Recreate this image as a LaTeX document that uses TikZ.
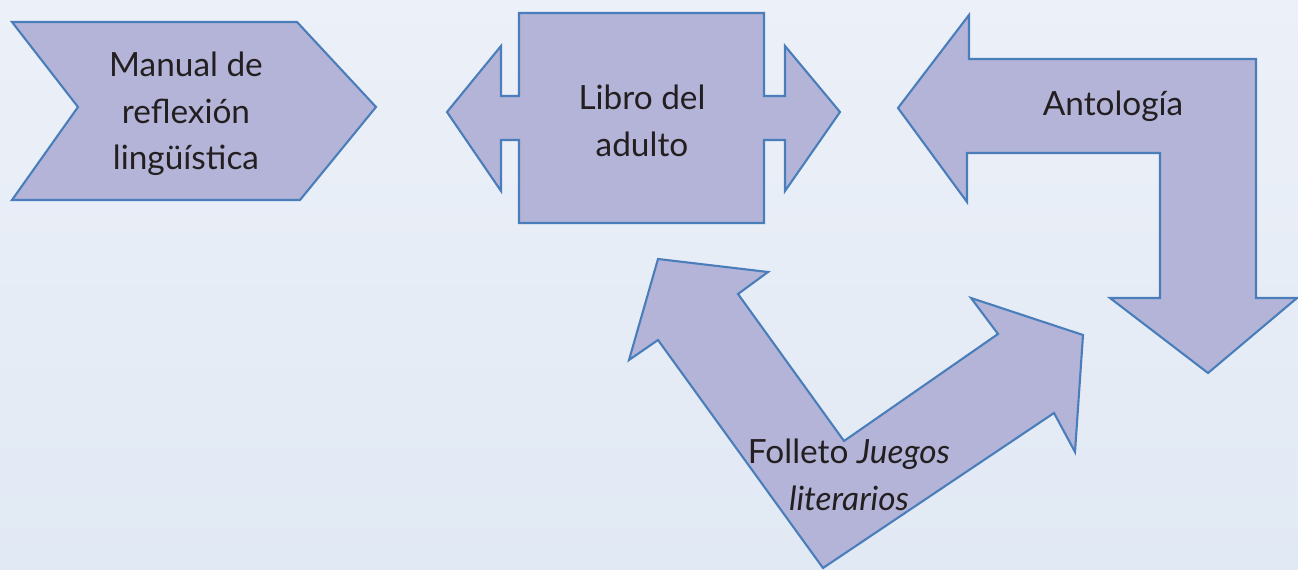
\documentclass[tikz,border=0pt]{standalone}
\usepackage{fontspec}
\setmainfont{Lato}
\usepackage{tikz}
\usepackage{xcolor}
\definecolor{bgtop}{HTML}{ECF0F8}
\definecolor{bgbot}{HTML}{E1E9F4}
\definecolor{arrowfill}{HTML}{B4B4D8}
\definecolor{arrowline}{HTML}{4A7EBB}
\definecolor{inktext}{HTML}{231F20}

\begin{document}
\begin{tikzpicture}[x=0.02cm,y=-0.02cm]
	\tikzstyle{shapefill} = [fill=arrowfill, draw=arrowline, line width=1.2pt, line join=miter]
	\tikzstyle{label} = [text=inktext, font=\fontsize{19}{26.5}\selectfont, align=center, inner sep=0pt]
	% background
	\shade [top color=bgtop, bottom color=bgbot] (0,0) rectangle (1298,570);
	\useasboundingbox (0,0) rectangle (1298,570);
	% chevron
	\filldraw [shapefill] (12,22) -- (297,22) -- (376,107) -- (300,200) -- (12,200) -- (78,107) -- cycle;
	% two-way arrow box
	\filldraw [shapefill] (519,13) -- (764,13) -- (764,96) -- (785,96) -- (785,46) -- (840,112)
		-- (785,191) -- (785,140) -- (764,140) -- (764,223) -- (519,223) -- (519,140)
		-- (501,140) -- (501,191) -- (447,112) -- (501,46) -- (501,96) -- (519,96) -- cycle;
	% bent arrow
	\filldraw [shapefill] (898,108) -- (969,15) -- (969,59) -- (1256,59) -- (1256,298)
		-- (1297,298) -- (1208,373) -- (1110,298) -- (1160,298) -- (1160,153)
		-- (967,153) -- (967,202) -- cycle;
	% v-shaped arrow
	\filldraw [shapefill] (658,259) -- (768,272) -- (738,294) -- (844,441) -- (998,334)
		-- (971,298) -- (1083,335) -- (1075,452) -- (1054,413) -- (823,568)
		-- (658,340) -- (629,360) -- cycle;
	% texts
	\node[label] (manual) at (186,114) {Manual de\\reflexión\\lingüística};
	\node[label] (libro) at (642,121) {Libro del\\adulto};
	\node[label] (antologia) at (1113,106) {Antología};
	\node[label] (folleto) at (849,475) {Folleto \textit{Juegos}\\\textit{literarios}};
\end{tikzpicture}
\end{document}
